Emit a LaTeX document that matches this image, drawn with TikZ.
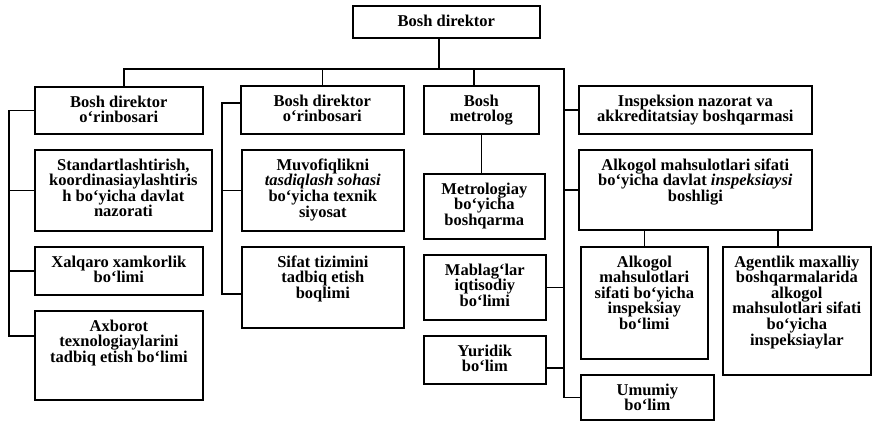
\documentclass[tikz,border=0pt]{standalone}
\usepackage{fontspec}
\setmainfont{Liberation Serif}
% box with its text hung from the top edge: name, x1, y1, x2, y2, text
\newcommand\orgbox[6]{%
  \pgfmathsetmacro\orgW{#4-#2}\pgfmathsetmacro\orgH{#5-#3}%
  \node[box, minimum width=\orgW pt, minimum height=\orgH pt, anchor=north west] (#1) at (#2,#3) {};
  \node[boxtext, anchor=north] (#1-t) at ([yshift=-9.5pt]#1.north) {#6};}
\begin{document}
\begin{tikzpicture}[x=1pt,y=-1pt,
  box/.style={draw, line width=1.7pt, inner sep=0pt},
  boxtext/.style={inner sep=0pt, align=center, font=\bfseries\fontsize{16.5}{15.6}\selectfont},
  link/.style={line width=1.7pt}]
\useasboundingbox (0,0) rectangle (873,423);

% top level
\orgbox{top}{352}{5}{539}{37}{Bosh direktor}

% second level
\orgbox{depA}{34}{86}{202}{133}{Bosh direktor\\o`rinbosari}
\orgbox{depB}{240}{85}{403}{133}{Bosh direktor\\o`rinbosari}
\orgbox{metr}{423}{85}{538}{133}{Bosh\\metrolog}
\orgbox{insp}{578}{85}{811}{133}{Inspeksion nazorat va\\akkreditatsiay boshqarmasi}

% first deputy's units
\orgbox{std}{34}{149}{211}{230}{Standartlashtirish,\\koordinasiaylashtiris\\h bo`yicha davlat\\nazorati}
\orgbox{xal}{34}{246}{202}{294}{Xalqaro xamkorlik\\bo`limi}
\orgbox{axb}{34}{310}{202}{399}{Axborot\\texnologiaylarini\\tadbiq etish bo`limi}

% second deputy's units
\orgbox{muv}{241}{149}{403}{230}{Muvofiqlikni\\\itshape tasdiqlash sohasi\\bo`yicha texnik\\siyosat}
\orgbox{sif}{241}{246}{403}{327}{Sifat tizimini\\tadbiq etish\\boqlimi}

% centre column
\orgbox{met}{423}{173}{544}{238}{Metrologiay\\bo`yicha\\boshqarma}
\orgbox{mab}{423}{254}{545}{319}{Mablag`lar\\iqtisodiy\\bo`limi}
\orgbox{yur}{423}{335}{545}{383}{Yuridik\\bo`lim}
\orgbox{umu}{580}{374}{713}{419}{Umumiy\\bo`lim}

% alcohol inspection branch
\orgbox{alk}{578}{149}{811}{229}{Alkogol mahsulotlari sifati\\bo`yicha davlat {\itshape inspeksiaysi}\\boshligi}
\orgbox{alks}{580}{246}{707}{358}{Alkogol\\mahsulotlari\\sifati bo`yicha\\inspeksiay\\bo`limi}
\orgbox{agt}{722}{246}{870}{374}{Agentlik maxalliy\\boshqarmalarida\\alkogol\\mahsulotlari sifati\\bo`yicha\\inspeksiaylar}

% bus under the director
\coordinate (busL) at (124,69);
\coordinate (busR) at (564,69);
\coordinate (lxA) at (9,0);
\coordinate (lxB) at (222,0);

\draw[link] ([xshift=-7.5pt]top.south) -- ([xshift=-7.5pt]top.south |- busL);
\draw[link] (depA.north -| busL) -- (busL) -- (busR) -- (busR |- umu.west) -- (umu.west);
\draw[link] (depB.north) -- (depB.north |- busL);
\draw[link] ([xshift=-7.5pt]metr.north) -- ([xshift=-7.5pt]metr.north |- busL);
\draw[link] (insp.west) -- (insp.west -| busR);
\draw[link] (alk.west) -- (alk.west -| busR);
\draw[link] (mab.east) -- (mab.east -| busR);
\draw[link] ([yshift=-8pt]yur.east) -- ([yshift=-8pt]yur.east -| busR);

% first deputy
\draw[link] (depA.west) -- (depA.west -| lxA) |- ([yshift=19.5pt]axb.west);
\draw[link] (std.west) -- (std.west -| lxA);
\draw[link] (xal.west) -- (xal.west -| lxA);

% second deputy
\draw[link] ([yshift=7pt]depB.west) -- ([yshift=7pt]depB.west -| lxB) |- ([yshift=-6.5pt]sif.west);
\draw[link] (muv.west) -- (muv.west -| lxB);

% chief metrologist
\draw[link] (metr.south) -- (metr.south |- met.north);

% inspection head
\draw[link] (alks.north) -- (alks.north |- alk.south);
\draw[link] ([xshift=-19pt]agt.north) -- ([xshift=-19pt]agt.north |- alk.south);
\end{tikzpicture}
\end{document}
